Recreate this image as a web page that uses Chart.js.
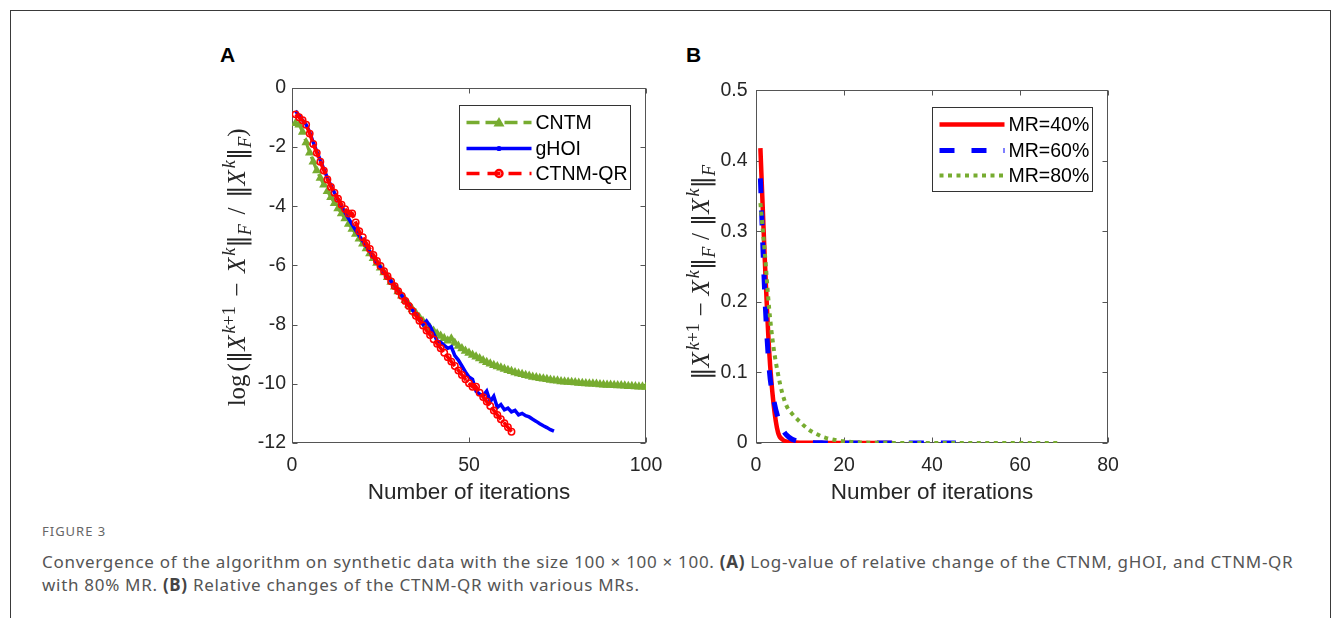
<!DOCTYPE html>
<html>
<head>
<meta charset="utf-8">
<script src="https://cdn.jsdelivr.net/npm/chart.js@4.4.0/dist/chart.umd.min.js"></script>
<style>
  body { margin: 0; background: #fff; width: 1336px; height: 618px; overflow: hidden; position: relative; }
  .frame { position: absolute; left: 10px; top: 10px; width: 1319px; height: 700px; border: 1px solid #3a3a3a; border-bottom: none; }
  .panel { position: absolute; top: 44px; font: bold 21px "Liberation Sans", Arial, sans-serif; line-height: 21px; color: #000; }
  canvas { position: absolute; }
  .figlabel { position: absolute; left: 42px; top: 525px; font: 13px "Noto Sans", sans-serif; line-height: 13px; color: #666; letter-spacing: 1px; }
  .caption { position: absolute; left: 42px; top: 550px; font: 17px "Noto Sans", sans-serif; line-height: 23px; color: #555; white-space: nowrap; letter-spacing: 0.7px; }
  .caption b { color: #444; }
</style>
</head>
<body>
<div class="frame"></div>
<div class="panel" style="left:220px">A</div>
<div class="panel" style="left:686px">B</div>
<canvas id="chartA" width="530" height="450" style="left:150px;top:70px"></canvas>
<canvas id="chartB" width="520" height="450" style="left:640px;top:70px"></canvas>
<div class="figlabel">FIGURE 3</div>
<div class="caption">Convergence of the algorithm on synthetic data with the size 100 × 100 × 100. <b>(A)</b> Log-value of relative change of the CTNM, gHOI, and CTNM-QR<br>with 80% MR. <b>(B)</b> Relative changes of the CTNM-QR with various MRs.</div>

<script>
// ---- panel A : log relative change, 80% MR ----
const cntm = [
  -1.2, -1.25, -1.5, -1.85, -2.2, -2.5, -2.8, -3.05, -3.28, -3.5,
  -3.7, -3.9, -4.08, -4.25, -4.42, -4.6, -4.77, -4.94, -5.1, -5.27,
  -5.43, -5.6, -5.76, -5.92, -6.08, -6.24, -6.4, -6.56, -6.72, -6.88,
  -7.03, -7.18, -7.33, -7.48, -7.62, -7.76, -7.89, -8.01, -8.12, -8.22,
  -8.31, -8.39, -8.46, -8.55, -8.48, -8.62, -8.72, -8.81, -8.89, -8.96,
  -9.03, -9.09, -9.15, -9.21, -9.27, -9.32, -9.37, -9.42, -9.46, -9.5,
  -9.54, -9.58, -9.62, -9.65, -9.68, -9.71, -9.74, -9.77, -9.79, -9.81,
  -9.83, -9.85, -9.87, -9.89, -9.9, -9.92, -9.93, -9.94, -9.95, -9.96,
  -9.97, -9.98, -9.99, -10.0, -10.0, -10.01, -10.02, -10.03, -10.04, -10.04,
  -10.05, -10.06, -10.06, -10.07, -10.08, -10.08, -10.09, -10.1, -10.1, -10.11
];
const ghoi = [
  -0.78, -0.95, -1.1, -1.25, -1.5, -1.85, -2.15, -2.45, -2.75, -3.05,
  -3.3, -3.55, -3.78, -4.0, -4.22, -4.42, -4.62, -4.82, -5.0, -5.18,
  -5.36, -5.54, -5.72, -5.9, -6.06, -6.22, -6.38, -6.54, -6.7, -6.86,
  -7.02, -7.18, -7.34, -7.5, -7.68, -7.85, -8.0, -7.88, -8.05, -8.3,
  -8.55, -8.6, -8.7, -8.8, -8.75, -9.05, -9.2, -9.4, -9.6, -9.77,
  -9.85, -10.25, -10.35, -10.4, -10.25, -10.6, -10.42, -10.8, -10.7, -10.88,
  -10.82, -10.95, -10.9, -11.05, -11.0, -11.08, -11.12, -11.2, -11.27, -11.35,
  -11.42, -11.48, -11.55, -11.6
];
const ctnmQR = [
  -0.9, -1.0, -1.1, -1.25, -1.55, -1.9, -2.2, -2.5, -2.8, -3.1,
  -3.35, -3.55, -3.75, -3.95, -4.1, -4.25, -4.25, -4.55, -4.85, -5.05,
  -5.25, -5.45, -5.65, -5.85, -6.02, -6.2, -6.37, -6.54, -6.7, -6.87,
  -7.03, -7.2, -7.37, -7.54, -7.7, -7.87, -8.03, -8.2, -8.35, -8.5,
  -8.65, -8.8, -8.95, -9.1, -9.25, -9.4, -9.55, -9.7, -9.85, -9.98,
  -10.1, -10.1, -10.3, -10.45, -10.6, -10.75, -10.9, -11.05, -11.2, -11.33,
  -11.47, -11.62
];

// ---- panel B : relative change for several missing ratios ----
const mr40 = [
  0.418, 0.26, 0.13, 0.055, 0.015, 0.005, 0.002, 0.001, 0.0006, 0.0004,
  0.0003, 0.0002, 0.0002, 0.0001, 0, 0, 0, 0, 0, 0,
  0, 0, 0, 0, 0, 0, 0, 0, 0, 0,
  0
];
const mr60 = [
  0.375, 0.21, 0.105, 0.062, 0.036, 0.02, 0.011, 0.006, 0.0035, 0.002,
  0.0012, 0.0008, 0.0005, 0.0003, 0.0002, 0.0001, 0, 0, 0, 0,
  0, 0, 0, 0, 0, 0, 0, 0, 0, 0,
  0, 0, 0, 0, 0, 0, 0, 0, 0, 0,
  0, 0, 0, 0, 0, 0, 0, 0, 0
];
const mr80 = [
  0.34, 0.27, 0.19, 0.135, 0.098, 0.07, 0.052, 0.043, 0.036, 0.03,
  0.024, 0.019, 0.015, 0.012, 0.009, 0.007, 0.0055, 0.0042, 0.0032, 0.0024,
  0.0018, 0.0013, 0.001, 0.0008, 0.0006, 0.0005, 0.0004, 0.0003, 0.0002, 0.0002,
  0.0001, 0, 0, 0, 0, 0, 0, 0, 0, 0,
  0, 0, 0, 0, 0, 0, 0, 0, 0, 0,
  0, 0, 0, 0, 0, 0, 0, 0, 0, 0,
  0, 0, 0, 0, 0, 0, 0, 0, 0
];

const xTicksA = [0, 50, 100];
const yTicksA = [0, -2, -4, -6, -8, -10, -12];
const xTicksB = [0, 20, 40, 60, 80];
const yTicksB = [0, 0.1, 0.2, 0.3, 0.4, 0.5];

const GREEN = "#77AC30", BLUE = "#0000FF", RED = "#FF0000";
const SANS = '"Liberation Sans", Arial, sans-serif';
const SERIF = '"Liberation Serif", "DejaVu Serif", serif';
const INK = "#262626";

// iteration k = 1..n
const toPoints = (vals) => vals.map((v, i) => ({ x: i + 1, y: v }));

// MATLAB style box with inward ticks on all four sides
const matlabBox = {
  id: "matlabBox",
  beforeDatasetsDraw(chart) {
    const { ctx, chartArea: a, scales } = chart;
    const L = Math.round(a.left) + 0.5, R = Math.round(a.right) - 0.5;
    const T = Math.round(a.top) + 0.5, B = Math.round(a.bottom) - 0.5;
    ctx.save();
    ctx.strokeStyle = "#555";
    ctx.lineWidth = 1;
    ctx.strokeRect(L, T, R - L, B - T);
    ctx.beginPath();
    scales.x.ticks.forEach((t) => {
      const px = Math.round(scales.x.getPixelForValue(t.value)) + 0.5;
      ctx.moveTo(px, B); ctx.lineTo(px, B - 5);
      ctx.moveTo(px, T); ctx.lineTo(px, T + 5);
    });
    scales.y.ticks.forEach((t) => {
      const py = Math.round(scales.y.getPixelForValue(t.value)) + 0.5;
      ctx.moveTo(L, py); ctx.lineTo(L + 5, py);
      ctx.moveTo(R, py); ctx.lineTo(R - 5, py);
    });
    ctx.stroke();
    ctx.restore();
  },
};

function drawMarker(ctx, kind, x, y, color) {
  ctx.save();
  ctx.fillStyle = color;
  ctx.strokeStyle = color;
  if (kind === "triangle") {
    ctx.beginPath();
    ctx.moveTo(x, y - 5.5); ctx.lineTo(x + 5.5, y + 4); ctx.lineTo(x - 5.5, y + 4);
    ctx.closePath(); ctx.fill();
  } else if (kind === "circle") {
    ctx.lineWidth = 2.5;
    ctx.beginPath(); ctx.arc(x, y, 3.5, 0, Math.PI * 2); ctx.stroke();
  } else if (kind === "dot") {
    ctx.beginPath(); ctx.arc(x, y, 2.6, 0, Math.PI * 2); ctx.fill();
  }
  ctx.restore();
}

// legend box in the upper right corner, MATLAB look
const mlLegend = {
  id: "mlLegend",
  afterDraw(chart, args, opts) {
    const { ctx, chartArea: a } = chart;
    const w = opts.width, h = 84;
    const left = Math.round(a.right - 16 - w) + 0.5, top = Math.round(a.top + 17) + 0.5;
    ctx.save();
    ctx.fillStyle = "#fff";
    ctx.fillRect(left, top, w, h);
    ctx.strokeStyle = "#333";
    ctx.lineWidth = 1;
    ctx.strokeRect(left, top, w, h);
    const rows = [17, 43, 68];
    opts.items.forEach((it, i) => {
      const y = top + rows[i];
      const x0 = left + 7, x1 = left + 72;
      ctx.save();
      ctx.strokeStyle = it.color;
      ctx.lineWidth = it.width;
      ctx.setLineDash(it.dash || []);
      ctx.beginPath(); ctx.moveTo(x0, y); ctx.lineTo(x1, y); ctx.stroke();
      ctx.restore();
      if (it.marker) drawMarker(ctx, it.marker, (x0 + x1) / 2, y, it.color);
      ctx.fillStyle = "#000";
      ctx.font = "19.5px " + SANS;
      ctx.textBaseline = "middle";
      ctx.fillText(it.label, left + 76, y + 1);
    });
    ctx.restore();
  },
};

// y axis label drawn as math: pieces of [text, kind]; "gap" pieces stretch so the label gets opts.length long
const yTitle = {
  id: "yTitle",
  afterDraw(chart, args, opts) {
    const { ctx, chartArea: a } = chart;
    const size = opts.size, small = Math.round(size * 0.7);
    const fonts = {
      n: size + "px " + SERIF,
      bar: size + 'px "DejaVu Serif", serif',
      i: "italic " + size + "px " + SERIF,
      supi: "italic " + small + "px " + SERIF,
      sup: small + "px " + SERIF,
      subi: "italic " + small + "px " + SERIF,
      gap: size + "px " + SERIF,
    };
    const shift = { n: 0, bar: 0, i: 0, gap: 0, supi: -size * 0.42, sup: -size * 0.42, subi: size * 0.24 };
    ctx.save();
    let fixed = 0, nGaps = 0;
    const widths = opts.parts.map(([t, k], idx) => {
      if (k === "gap") { nGaps += t; return 0; }
      ctx.font = fonts[k];
      let w = ctx.measureText(t).width;
      const next = opts.parts[idx + 1];
      if (k === "i" && next && (next[1] === "supi" || next[1] === "sup")) w += 2;
      fixed += w;
      return w;
    });
    const unit = Math.max(1, (opts.length - fixed) / nGaps);
    const total = fixed + unit * nGaps;
    ctx.translate(a.left - opts.gap, (a.top + a.bottom) / 2 + opts.dy);
    ctx.rotate(-Math.PI / 2);
    ctx.fillStyle = INK;
    ctx.textBaseline = "alphabetic";
    let x = -total / 2;
    opts.parts.forEach(([t, k], i) => {
      if (k === "gap") { x += unit * t; return; }
      ctx.font = fonts[k];
      ctx.fillText(t, x, shift[k]);
      x += widths[i];
    });
    ctx.restore();
  },
};

const normPart = [
  ["\u2016", "bar"], ["X", "i"], ["k", "supi"], ["+1", "sup"], [1, "gap"], ["\u2212", "n"], [1, "gap"],
  ["X", "i"], ["k", "supi"], ["\u2016", "bar"], ["F", "subi"], [1, "gap"], ["/", "n"], [1, "gap"],
  ["\u2016", "bar"], ["X", "i"], ["k", "supi"], ["\u2016", "bar"], ["F", "subi"],
];

function axesOptions(xTicks, yTicks, yPad, yWidth) {
  return {
    x: {
      type: "linear",
      min: xTicks[0], max: xTicks[xTicks.length - 1],
      afterBuildTicks: (s) => { s.ticks = xTicks.map((v) => ({ value: v })); },
      afterFit: (s) => { s.height = 77; },
      grid: { display: false, drawTicks: false },
      border: { display: false },
      ticks: { padding: 11, color: INK, font: { family: SANS, size: 19.5 }, maxRotation: 0 },
      title: {
        display: true, text: "Number of iterations", color: INK,
        font: { family: SANS, size: 22.5 }, padding: { top: 0, bottom: 13.5 },
      },
    },
    y: {
      type: "linear",
      min: Math.min(...yTicks), max: Math.max(...yTicks),
      afterBuildTicks: (s) => { s.ticks = yTicks.slice().sort((p, q) => p - q).map((v) => ({ value: v })); },
      afterFit: (s) => { s.width = yWidth; },
      grid: { display: false, drawTicks: false },
      border: { display: false },
      ticks: { padding: yPad, color: INK, font: { family: SANS, size: 19.5 } },
    },
  };
}

const chartA = new Chart(document.getElementById("chartA"), {
  type: "line",
  data: {
    datasets: [
      {
        label: "CNTM", data: toPoints(cntm), order: 3,
        borderColor: GREEN, backgroundColor: GREEN, borderWidth: 3, borderDash: [13, 6],
        pointStyle: "triangle", pointRadius: 5.5, pointBorderWidth: 0, pointBackgroundColor: GREEN,
        tension: 0,
      },
      {
        label: "gHOI", data: toPoints(ghoi), order: 2,
        borderColor: BLUE, backgroundColor: BLUE, borderWidth: 3.5, pointRadius: 0, tension: 0,
      },
      {
        label: "CTNM-QR", data: toPoints(ctnmQR), order: 1,
        borderColor: RED, backgroundColor: RED, borderWidth: 3.5, borderDash: [14, 4],
        pointStyle: "circle", pointRadius: 3.2, pointBorderWidth: 1.5,
        pointBorderColor: RED, pointBackgroundColor: "rgba(0,0,0,0)", tension: 0,
      },
    ],
  },
  options: {
    responsive: false, animation: false, devicePixelRatio: 1,
    layout: { padding: { top: 15, right: 34, left: 0, bottom: 0 } },
    scales: axesOptions(xTicksA, yTicksA, 6, 142),
    plugins: {
      legend: { display: false },
      tooltip: { enabled: false },
      mlLegend: {
        width: 171,
        items: [
          { label: "CNTM", color: GREEN, width: 3.5, dash: [13, 6], marker: "triangle" },
          { label: "gHOI", color: BLUE, width: 3.5, marker: "dot" },
          { label: "CTNM-QR", color: RED, width: 3.5, dash: [13, 8], marker: "circle" },
        ],
      },
      yTitle: {
        size: 25, gap: 47, dy: 2, length: 278,
        parts: [["log", "n"], [0.3, "gap"], ["(", "n"]].concat(normPart, [[")", "n"]]),
      },
    },
  },
  plugins: [matlabBox, mlLegend, yTitle],
});

const chartB = new Chart(document.getElementById("chartB"), {
  type: "line",
  data: {
    datasets: [
      {
        label: "MR=40%", data: toPoints(mr40), order: 3,
        borderColor: RED, borderWidth: 4.5, pointRadius: 0, cubicInterpolationMode: "monotone",
      },
      {
        label: "MR=60%", data: toPoints(mr60), order: 2,
        borderColor: BLUE, borderWidth: 5, borderDash: [15, 17], pointRadius: 0,
        cubicInterpolationMode: "monotone",
      },
      {
        label: "MR=80%", data: toPoints(mr80), order: 1,
        borderColor: GREEN, borderWidth: 4, borderDash: [4, 4.5], pointRadius: 0,
        cubicInterpolationMode: "monotone",
      },
    ],
  },
  options: {
    responsive: false, animation: false, devicePixelRatio: 1,
    layout: { padding: { top: 15, right: 52, left: 0, bottom: 0 } },
    scales: axesOptions(xTicksB, yTicksB, 8.5, 116),
    plugins: {
      legend: { display: false },
      tooltip: { enabled: false },
      mlLegend: {
        width: 160,
        items: [
          { label: "MR=40%", color: RED, width: 4.5 },
          { label: "MR=60%", color: BLUE, width: 5, dash: [15, 17] },
          { label: "MR=80%", color: GREEN, width: 4, dash: [4, 4.5] },
        ],
      },
      yTitle: { size: 25, gap: 47, dy: 6, length: 215, parts: normPart },
    },
  },
  plugins: [matlabBox, mlLegend, yTitle],
});
</script>
</body>
</html>
